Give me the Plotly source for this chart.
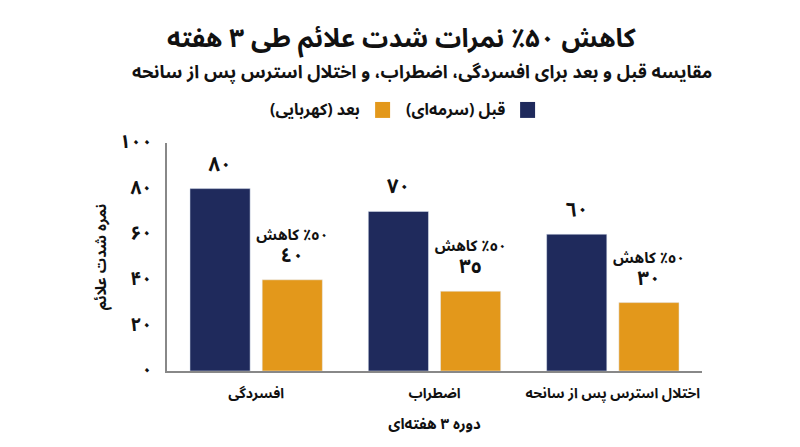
import plotly.graph_objects as go

# داده‌ها
categories = ["افسردگی", "اضطراب", "اختلال استرس پس از سانحه"]
before_vals = [80, 70, 60]
after_vals = [40, 35, 30]
y_ticks = [0, 20, 40, 60, 80, 100]

NAVY = "#1f2a5c"
AMBER = "#e3981b"
FONT = "Noto Sans Arabic, DejaVu Sans, sans-serif"
RLM = "\u200f"

FA_DIGITS = str.maketrans("0123456789", "۰۱۲۳۴۵۶۷۸۹")   # persian, for the axis
AR_DIGITS = str.maketrans("0123456789", "٠١٢٣٤٥٦٧٨٩")   # arabic-indic, bar labels


def fa(n):
    return str(n).translate(FA_DIGITS)


def ar(n):
    return str(n).translate(AR_DIGITS)


def big(s, size):
    # digits only labels get a bigger size, the font draws them small
    return f"<b><span style='font-size:{size}px'>{s}</span></b>"


before_text = [big(ar(v), 20) for v in before_vals]
after_text = [
    f"<b><span style='font-size:15px'>{RLM}{ar(round((b - a) / b * 100))}٪ کاهش</span></b>"
    f"<br>{big(ar(a), 20)}"
    for b, a in zip(before_vals, after_vals)
]

fig = go.Figure()
fig.add_trace(go.Bar(
    x=categories, y=before_vals, name="قبل (سرمه‌ای)",
    marker_color=NAVY, text=before_text, textposition="outside",
    outsidetextfont=dict(size=15, color="#111111", family=FONT),
    constraintext="none", cliponaxis=False, showlegend=False,
))
fig.add_trace(go.Bar(
    x=categories, y=after_vals, name="بعد (کهربایی)",
    marker_color=AMBER, text=after_text, textposition="outside",
    outsidetextfont=dict(size=17, color="#111111", family=FONT),
    constraintext="none", cliponaxis=False, showlegend=False,
))

# legend drawn by hand so the swatch sits to the right of the text (RTL)
legend_items = [("قبل (سرمه‌ای)", NAVY, 0.66), ("بعد (کهربایی)", AMBER, 0.389)]
for label, color, xr in legend_items:
    fig.add_shape(type="rect", xref="paper", yref="paper",
                  x0=xr, x1=xr + 0.028, y0=1.11, y1=1.18,
                  fillcolor=color, line_width=0)
    fig.add_annotation(x=xr - 0.025, y=1.145, xref="paper", yref="paper",
                       text=f"<b>{label}</b>", showarrow=False,
                       xanchor="right", yanchor="middle",
                       font=dict(size=16, color="#111111", family=FONT))

fig.add_annotation(x=0.44, y=1.46, xref="paper", yref="paper",
                   text="<b>کاهش ۵۰٪ نمرات شدت علائم طی ۳ هفته</b>",
                   showarrow=False, xanchor="center", yanchor="middle",
                   font=dict(size=26, color="#111111", family=FONT))
fig.add_annotation(x=0.477, y=1.311, xref="paper", yref="paper",
                   text="<b>مقایسه قبل و بعد برای افسردگی، اضطراب، و اختلال استرس پس از سانحه</b>",
                   showarrow=False, xanchor="center", yanchor="middle",
                   font=dict(size=18, color="#111111", family=FONT))

fig.update_layout(
    width=792, height=439,
    margin=dict(l=159, r=98, t=135, b=76),
    paper_bgcolor="white", plot_bgcolor="white",
    barmode="group", bargap=0.19, bargroupgap=0.167,
    font=dict(family=FONT, color="#111111"),
    xaxis=dict(
        showline=True, linecolor="#888888", linewidth=1.5,
        ticks="", tickfont=dict(size=14), ticklabelstandoff=8,
        tickvals=categories, ticktext=[f"<b>{c}</b>" for c in categories],
        title=dict(text="<b>دوره ۳ هفته‌ای</b>", font=dict(size=15), standoff=10),
    ),
    yaxis=dict(
        range=[0, 100], showgrid=False, zeroline=False,
        showline=True, linecolor="#888888", linewidth=1.5,
        tickvals=y_ticks, ticktext=[big(fa(t), 19) for t in y_ticks],
        tickfont=dict(size=15), ticks="", ticklabelstandoff=10,
        title=dict(text="<b>نمره شدت علائم</b>", font=dict(size=15), standoff=9),
    ),
)

fig.write_html("out.html")
